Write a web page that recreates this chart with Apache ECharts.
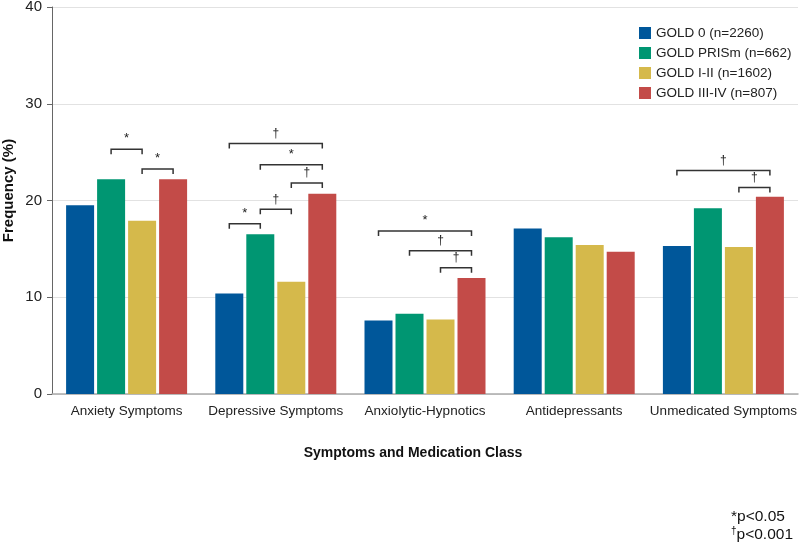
<!DOCTYPE html>
<html>
<head>
<meta charset="utf-8">
<script src="https://cdn.jsdelivr.net/npm/echarts@6/dist/echarts.min.js"></script>
<style>
html, body { margin: 0; padding: 0; background: #fff; }
#chart { width: 800px; height: 545px; }
</style>
</head>
<body>
<div id="chart"></div>
<script>
// categories and series
const categories = ["Anxiety Symptoms", "Depressive Symptoms", "Anxiolytic-Hypnotics", "Antidepressants", "Unmedicated Symptoms"];
const seriesNames = ["GOLD 0 (n=2260)", "GOLD PRISm (n=662)", "GOLD I-II (n=1602)", "GOLD III-IV (n=807)"];
const gold0 = [19.5, 10.4, 7.6, 17.1, 15.3];
const goldPrism = [22.2, 16.5, 8.3, 16.2, 19.2];
const gold12 = [17.9, 11.6, 7.7, 15.4, 15.2];
const gold34 = [22.2, 20.7, 12.0, 14.7, 20.4];
const yTicks = [0, 10, 20, 30, 40];

// significance brackets: category, from bar, to bar, height, mark
const bracketCat = [0, 0, 1, 1, 1, 1, 1, 2, 2, 2, 4, 4];
const bracketFrom = [1, 2, 0, 1, 2, 1, 0, 0, 1, 2, 0, 2];
const bracketTo = [2, 3, 1, 2, 3, 3, 3, 3, 3, 3, 3, 3];
const bracketY = [25.3, 23.25, 17.6, 19.1, 21.8, 23.7, 25.9, 16.85, 14.8, 13.05, 23.1, 21.35];
const bracketMark = ["*", "*", "*", "†", "†", "*", "†", "*", "†", "†", "†", "†"];

const colors = ["#00579A", "#009672", "#D5B94B", "#C34B48"];
const FONT = "Liberation Sans, Arial, sans-serif";
const BAR_W = 28;
const BAR_GAP = 3;

const chart = echarts.init(document.getElementById("chart"));

const barData = [gold0, goldPrism, gold12, gold34];

function barOffset(k) {
    const total = 4 * BAR_W + 3 * BAR_GAP;
    return -total / 2 + k * (BAR_W + BAR_GAP) + BAR_W / 2;
}

const barSeries = seriesNames.map((name, i) => ({
    name: name,
    type: "bar",
    data: barData[i],
    barWidth: BAR_W,
    barGap: (BAR_GAP / BAR_W * 100) + "%",
    itemStyle: { color: colors[i] },
}));

chart.setOption({
    animation: false,
    color: colors,
    textStyle: { fontFamily: FONT },
    grid: { left: 52, right: 2, top: 7, bottom: 151, outerBoundsMode: "none" },
    legend: {
        orient: "vertical",
        left: 634,
        top: 21,
        itemWidth: 12,
        itemHeight: 12,
        itemGap: 6,
        data: seriesNames,
        textStyle: { fontSize: 13.5, color: "#222", fontFamily: FONT },
        icon: "rect",
    },
    xAxis: {
        type: "category",
        data: categories,
        name: "Symptoms and Medication Class",
        nameLocation: "middle",
        nameGap: 52,
        nameTextStyle: { fontSize: 14, fontWeight: "bold", color: "#111", fontFamily: FONT, padding: [0, 24, 0, 0] },
        axisLine: { lineStyle: { color: "#aaa", width: 1.5 } },
        axisTick: { alignWithLabel: true, length: 4, lineStyle: { color: "#888" } },
        axisLabel: { fontSize: 13.5, color: "#222", margin: 10, interval: 0 },
    },
    yAxis: {
        type: "value",
        min: yTicks[0],
        max: yTicks[yTicks.length - 1],
        interval: 10,
        name: "Frequency (%)",
        nameLocation: "middle",
        nameRotate: 90,
        nameGap: 36,
        nameMoveOverlap: false,
        nameTextStyle: { fontSize: 15, fontWeight: "bold", color: "#111", fontFamily: FONT, padding: [0, 0, 0, 20] },
        axisLine: { show: true, lineStyle: { color: "#666" } },
        axisTick: { show: true, length: 5, lineStyle: { color: "#666" } },
        axisLabel: { fontSize: 15, color: "#222", margin: 10 },
        splitLine: { lineStyle: { color: "#e2e2e2" } },
    },
    series: barSeries.concat([
        {
            type: "custom",
            name: "brackets",
            data: bracketCat.map((c, i) => [c, bracketY[i]]),
            encode: { x: 0, y: 1 },
            clip: false,
            z: 10,
            silent: true,
            renderItem: function (params, api) {
                const i = params.dataIndex;
                const p = api.coord([api.value(0), api.value(1)]);
                const x1 = p[0] + barOffset(bracketFrom[i]);
                const x2 = p[0] + barOffset(bracketTo[i]);
                const y = p[1];
                return {
                    type: "group",
                    children: [
                        {
                            type: "polyline",
                            shape: { points: [[x1, y + 5], [x1, y], [x2, y], [x2, y + 5]] },
                            style: { stroke: "#333", lineWidth: 1.5, fill: null },
                        },
                        {
                            type: "text",
                            style: {
                                x: (x1 + x2) / 2,
                                y: y - 4,
                                text: bracketMark[i],
                                fontSize: bracketMark[i] === "*" ? 13 : 12,
                                fontFamily: FONT,
                                fill: "#222",
                                align: "center",
                                verticalAlign: "bottom",
                            },
                        },
                    ],
                };
            },
        },
    ]),
    graphic: [
        {
            type: "text",
            left: 731,
            top: 509,
            style: {
                text: "{n|*p<0.05}\n{s|†}{n|p<0.001}",
                rich: {
                    n: { fontSize: 15.5, fill: "#111", fontFamily: FONT, lineHeight: 18 },
                    s: { fontSize: 10, fill: "#111", fontFamily: FONT, verticalAlign: "top", lineHeight: 18 },
                },
            },
        },
    ],
});
</script>
</body>
</html>
